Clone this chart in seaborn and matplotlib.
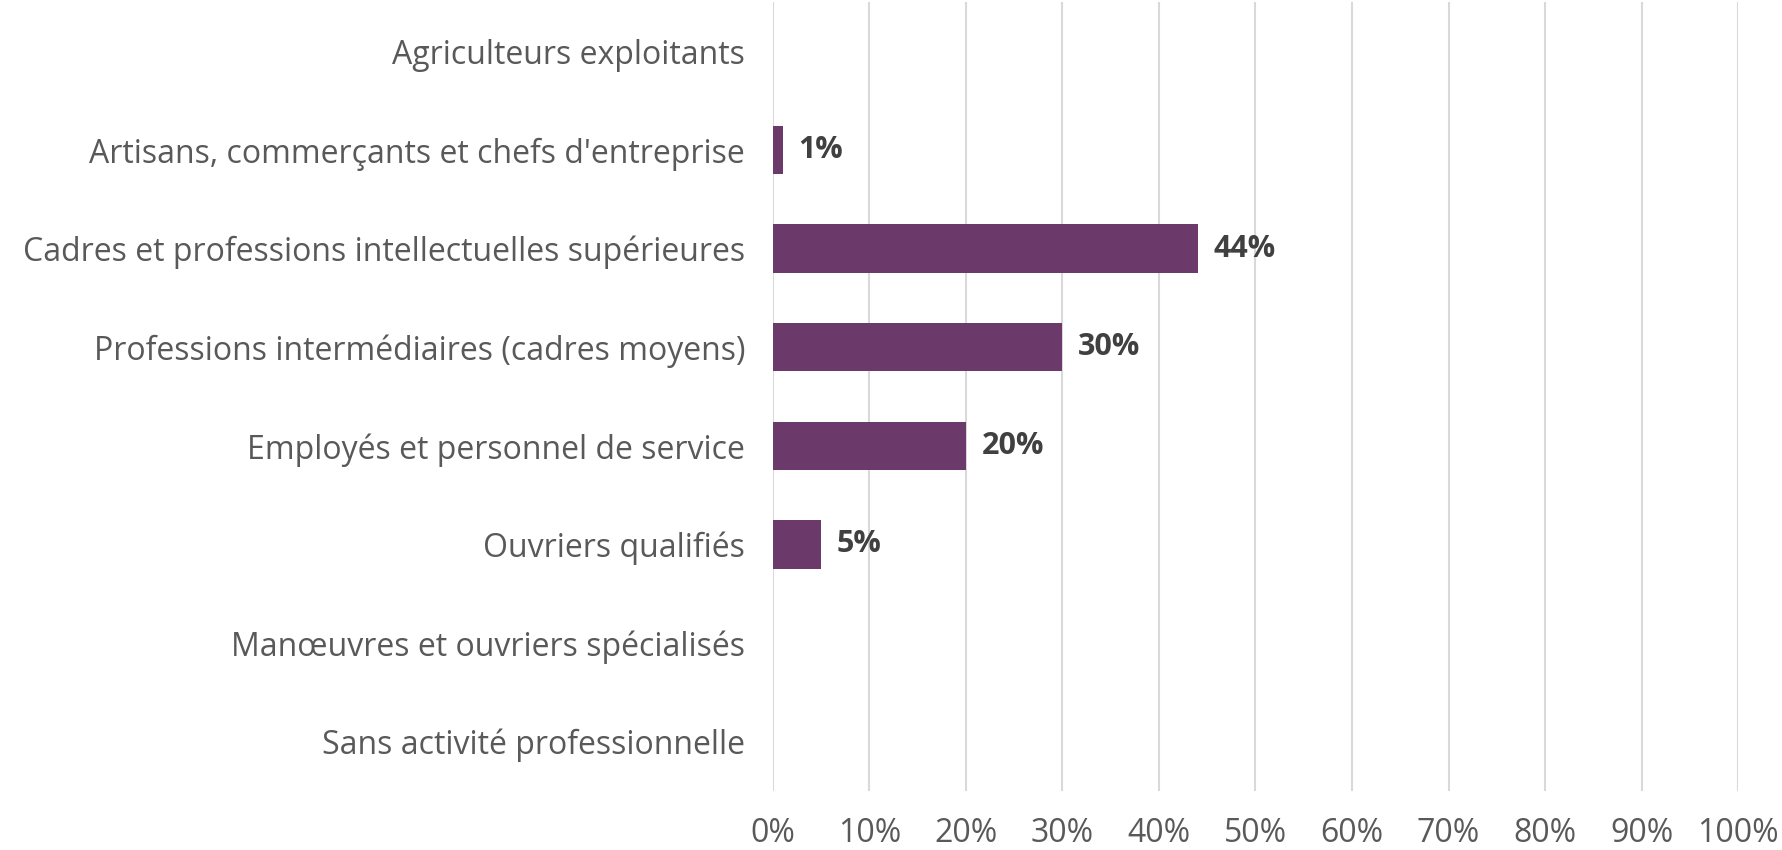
import seaborn as sns
import matplotlib.pyplot as plt
import pandas as pd

categories = [
    "Agriculteurs exploitants",
    "Artisans, commerçants et chefs d'entreprise",
    "Cadres et professions intellectuelles supérieures",
    "Professions intermédiaires (cadres moyens)",
    "Employés et personnel de service",
    "Ouvriers qualifiés",
    "Manœuvres et ouvriers spécialisés",
    "Sans activité professionnelle",
]
shares = [0, 1, 44, 30, 20, 5, 0, 0]
x_ticks = list(range(0, 101, 10))
x_tick_labels = [f"{t}%" for t in x_ticks]

df = pd.DataFrame({"categorie": categories, "part": shares})

sns.set_theme(style="white")
plt.rcParams["font.family"] = ["Open Sans", "DejaVu Sans"]

fig = plt.figure(figsize=(17.83, 8.5), dpi=100)
ax = fig.add_axes([0.4335, 0.0694, 0.5413, 0.9282])

sns.barplot(data=df, x="part", y="categorie", orient="h", color="#6B3A6B",
            saturation=1, width=0.49, linewidth=0, ax=ax)

ax.set_xlim(0, 100)
ax.set_ylim(len(categories) - 0.5, -0.5)
ax.set_xticks(x_ticks)
ax.set_xticklabels(x_tick_labels)
ax.xaxis.grid(True, color="#d9d9d9", linewidth=1.5)
ax.set_axisbelow(True)
for s in ax.spines.values():
    s.set_visible(False)
ax.tick_params(axis="both", length=0, labelsize=23, colors="#595959")
ax.tick_params(axis="x", pad=19)
ax.tick_params(axis="y", pad=20)
ax.set_xlabel("")
ax.set_ylabel("")

for i, v in enumerate(shares):
    if v > 0:
        ax.text(v + 1.6, i, f"{v}%", va="center", ha="left",
                fontsize=22, fontweight="bold", color="#404040")

fig.savefig("out.png", dpi=100)
